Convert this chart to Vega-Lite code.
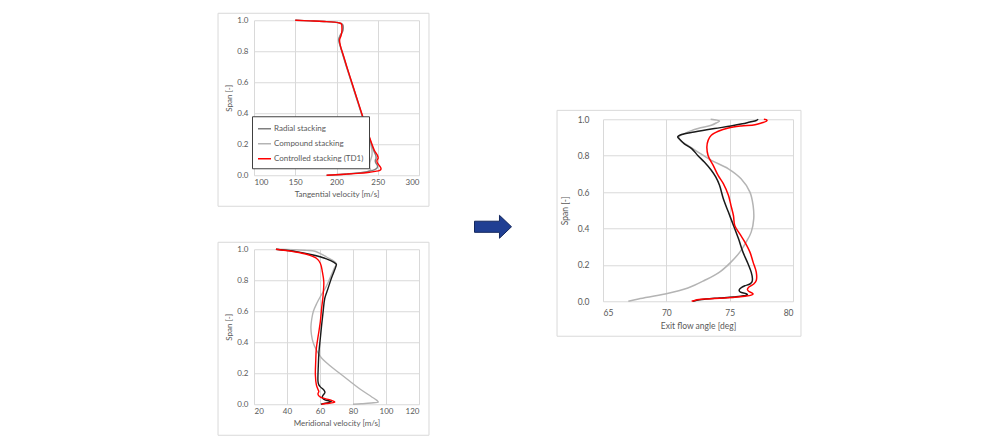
{
  "$schema": "https://vega.github.io/schema/vega-lite/v6.json",
  "padding": {"left": 217, "top": 12, "right": 0, "bottom": 0},
  "background": "white",
  "config": {
    "view": {"stroke": null},
    "axis": {"domain": false, "ticks": false, "grid": true, "gridColor": "#d9d9d9", "gridWidth": 1, "tickCount": 12, "labelOverlap": false,
      "labelColor": "#595959", "titleColor": "#595959", "labelFont": "Lato", "titleFont": "Lato",
      "titleFontWeight": "normal", "labelFontSize": 8, "titleFontSize": 8}
  },
  "datasets": {
    "tang": [
      {"s": "Compound stacking", "span": 1.0, "v": 150},
      {"s": "Compound stacking", "span": 0.996, "v": 168},
      {"s": "Compound stacking", "span": 0.992, "v": 185},
      {"s": "Compound stacking", "span": 0.988, "v": 197},
      {"s": "Compound stacking", "span": 0.983, "v": 203.5},
      {"s": "Compound stacking", "span": 0.976, "v": 207},
      {"s": "Compound stacking", "span": 0.96, "v": 208},
      {"s": "Compound stacking", "span": 0.93, "v": 207.5},
      {"s": "Compound stacking", "span": 0.9, "v": 204},
      {"s": "Compound stacking", "span": 0.875, "v": 202.5},
      {"s": "Compound stacking", "span": 0.855, "v": 203.3},
      {"s": "Compound stacking", "span": 0.8, "v": 206.3},
      {"s": "Compound stacking", "span": 0.7, "v": 212},
      {"s": "Compound stacking", "span": 0.6, "v": 218},
      {"s": "Compound stacking", "span": 0.5, "v": 224},
      {"s": "Compound stacking", "span": 0.4, "v": 230},
      {"s": "Compound stacking", "span": 0.3, "v": 236},
      {"s": "Compound stacking", "span": 0.2, "v": 241.5},
      {"s": "Compound stacking", "span": 0.16, "v": 243},
      {"s": "Compound stacking", "span": 0.13, "v": 243},
      {"s": "Compound stacking", "span": 0.1, "v": 241.5},
      {"s": "Compound stacking", "span": 0.08, "v": 240.5},
      {"s": "Compound stacking", "span": 0.06, "v": 240.3},
      {"s": "Compound stacking", "span": 0.045, "v": 240.5},
      {"s": "Compound stacking", "span": 0.035, "v": 241.5},
      {"s": "Compound stacking", "span": 0.025, "v": 238},
      {"s": "Compound stacking", "span": 0.017, "v": 230},
      {"s": "Compound stacking", "span": 0.01, "v": 218},
      {"s": "Compound stacking", "span": 0.005, "v": 205},
      {"s": "Compound stacking", "span": 0.0, "v": 190},
      {"s": "Radial stacking", "span": 1.0, "v": 150},
      {"s": "Radial stacking", "span": 0.996, "v": 168},
      {"s": "Radial stacking", "span": 0.992, "v": 185},
      {"s": "Radial stacking", "span": 0.988, "v": 197},
      {"s": "Radial stacking", "span": 0.983, "v": 203},
      {"s": "Radial stacking", "span": 0.97, "v": 207.5},
      {"s": "Radial stacking", "span": 0.93, "v": 207.5},
      {"s": "Radial stacking", "span": 0.9, "v": 204.5},
      {"s": "Radial stacking", "span": 0.875, "v": 202.8},
      {"s": "Radial stacking", "span": 0.855, "v": 203.5},
      {"s": "Radial stacking", "span": 0.8, "v": 206.5},
      {"s": "Radial stacking", "span": 0.7, "v": 212.3},
      {"s": "Radial stacking", "span": 0.6, "v": 218.3},
      {"s": "Radial stacking", "span": 0.5, "v": 224.3},
      {"s": "Radial stacking", "span": 0.4, "v": 230.3},
      {"s": "Radial stacking", "span": 0.3, "v": 236.3},
      {"s": "Radial stacking", "span": 0.2, "v": 242.5},
      {"s": "Radial stacking", "span": 0.16, "v": 245},
      {"s": "Radial stacking", "span": 0.13, "v": 247.5},
      {"s": "Radial stacking", "span": 0.11, "v": 248},
      {"s": "Radial stacking", "span": 0.095, "v": 247},
      {"s": "Radial stacking", "span": 0.08, "v": 247.5},
      {"s": "Radial stacking", "span": 0.065, "v": 249.5},
      {"s": "Radial stacking", "span": 0.05, "v": 249.5},
      {"s": "Radial stacking", "span": 0.04, "v": 247.5},
      {"s": "Radial stacking", "span": 0.03, "v": 243},
      {"s": "Radial stacking", "span": 0.022, "v": 236},
      {"s": "Radial stacking", "span": 0.015, "v": 226},
      {"s": "Radial stacking", "span": 0.008, "v": 212},
      {"s": "Radial stacking", "span": 0.003, "v": 199},
      {"s": "Radial stacking", "span": 0.0, "v": 188},
      {"s": "Controlled stacking (TD1)", "span": 1.0, "v": 150},
      {"s": "Controlled stacking (TD1)", "span": 0.996, "v": 168},
      {"s": "Controlled stacking (TD1)", "span": 0.992, "v": 185},
      {"s": "Controlled stacking (TD1)", "span": 0.988, "v": 197},
      {"s": "Controlled stacking (TD1)", "span": 0.983, "v": 203},
      {"s": "Controlled stacking (TD1)", "span": 0.976, "v": 206},
      {"s": "Controlled stacking (TD1)", "span": 0.96, "v": 206.5},
      {"s": "Controlled stacking (TD1)", "span": 0.93, "v": 206.5},
      {"s": "Controlled stacking (TD1)", "span": 0.9, "v": 205.5},
      {"s": "Controlled stacking (TD1)", "span": 0.875, "v": 203.8},
      {"s": "Controlled stacking (TD1)", "span": 0.855, "v": 204},
      {"s": "Controlled stacking (TD1)", "span": 0.82, "v": 205.5},
      {"s": "Controlled stacking (TD1)", "span": 0.8, "v": 206.7},
      {"s": "Controlled stacking (TD1)", "span": 0.75, "v": 209.7},
      {"s": "Controlled stacking (TD1)", "span": 0.7, "v": 212.5},
      {"s": "Controlled stacking (TD1)", "span": 0.6, "v": 218.5},
      {"s": "Controlled stacking (TD1)", "span": 0.5, "v": 224.5},
      {"s": "Controlled stacking (TD1)", "span": 0.4, "v": 230.5},
      {"s": "Controlled stacking (TD1)", "span": 0.3, "v": 236.5},
      {"s": "Controlled stacking (TD1)", "span": 0.2, "v": 243},
      {"s": "Controlled stacking (TD1)", "span": 0.16, "v": 246},
      {"s": "Controlled stacking (TD1)", "span": 0.13, "v": 249.5},
      {"s": "Controlled stacking (TD1)", "span": 0.11, "v": 250.5},
      {"s": "Controlled stacking (TD1)", "span": 0.095, "v": 249},
      {"s": "Controlled stacking (TD1)", "span": 0.08, "v": 249.5},
      {"s": "Controlled stacking (TD1)", "span": 0.065, "v": 251.5},
      {"s": "Controlled stacking (TD1)", "span": 0.05, "v": 253.5},
      {"s": "Controlled stacking (TD1)", "span": 0.04, "v": 254},
      {"s": "Controlled stacking (TD1)", "span": 0.032, "v": 252.5},
      {"s": "Controlled stacking (TD1)", "span": 0.025, "v": 247},
      {"s": "Controlled stacking (TD1)", "span": 0.018, "v": 238},
      {"s": "Controlled stacking (TD1)", "span": 0.012, "v": 226},
      {"s": "Controlled stacking (TD1)", "span": 0.007, "v": 212},
      {"s": "Controlled stacking (TD1)", "span": 0.003, "v": 199},
      {"s": "Controlled stacking (TD1)", "span": 0.0, "v": 188}
    ],
    "merid": [
      {"s": "Compound stacking", "span": 1.0, "v": 34},
      {"s": "Compound stacking", "span": 0.997, "v": 44},
      {"s": "Compound stacking", "span": 0.993, "v": 52},
      {"s": "Compound stacking", "span": 0.987, "v": 57},
      {"s": "Compound stacking", "span": 0.97, "v": 60.5},
      {"s": "Compound stacking", "span": 0.95, "v": 64},
      {"s": "Compound stacking", "span": 0.93, "v": 67.5},
      {"s": "Compound stacking", "span": 0.91, "v": 69.7},
      {"s": "Compound stacking", "span": 0.9, "v": 70},
      {"s": "Compound stacking", "span": 0.885, "v": 69},
      {"s": "Compound stacking", "span": 0.85, "v": 67.5},
      {"s": "Compound stacking", "span": 0.8, "v": 65.5},
      {"s": "Compound stacking", "span": 0.75, "v": 63.3},
      {"s": "Compound stacking", "span": 0.7, "v": 60.5},
      {"s": "Compound stacking", "span": 0.65, "v": 58},
      {"s": "Compound stacking", "span": 0.6, "v": 56},
      {"s": "Compound stacking", "span": 0.55, "v": 55},
      {"s": "Compound stacking", "span": 0.5, "v": 54.5},
      {"s": "Compound stacking", "span": 0.45, "v": 54.8},
      {"s": "Compound stacking", "span": 0.4, "v": 55.8},
      {"s": "Compound stacking", "span": 0.35, "v": 57.8},
      {"s": "Compound stacking", "span": 0.3, "v": 60.8},
      {"s": "Compound stacking", "span": 0.25, "v": 65.9},
      {"s": "Compound stacking", "span": 0.2, "v": 71.9},
      {"s": "Compound stacking", "span": 0.15, "v": 77.9},
      {"s": "Compound stacking", "span": 0.1, "v": 84},
      {"s": "Compound stacking", "span": 0.05, "v": 91},
      {"s": "Compound stacking", "span": 0.025, "v": 94.5},
      {"s": "Compound stacking", "span": 0.015, "v": 95.3},
      {"s": "Compound stacking", "span": 0.008, "v": 91},
      {"s": "Compound stacking", "span": 0.003, "v": 85},
      {"s": "Compound stacking", "span": 0.0, "v": 80},
      {"s": "Radial stacking", "span": 1.0, "v": 33.3},
      {"s": "Radial stacking", "span": 0.985, "v": 45.8},
      {"s": "Radial stacking", "span": 0.963, "v": 55.8},
      {"s": "Radial stacking", "span": 0.938, "v": 63.9},
      {"s": "Radial stacking", "span": 0.915, "v": 68.5},
      {"s": "Radial stacking", "span": 0.903, "v": 69.9},
      {"s": "Radial stacking", "span": 0.885, "v": 69.5},
      {"s": "Radial stacking", "span": 0.867, "v": 68.9},
      {"s": "Radial stacking", "span": 0.813, "v": 66.9},
      {"s": "Radial stacking", "span": 0.748, "v": 64.9},
      {"s": "Radial stacking", "span": 0.684, "v": 62.9},
      {"s": "Radial stacking", "span": 0.598, "v": 61.9},
      {"s": "Radial stacking", "span": 0.512, "v": 61.0},
      {"s": "Radial stacking", "span": 0.426, "v": 60.2},
      {"s": "Radial stacking", "span": 0.34, "v": 59.4},
      {"s": "Radial stacking", "span": 0.254, "v": 59.0},
      {"s": "Radial stacking", "span": 0.146, "v": 58.8},
      {"s": "Radial stacking", "span": 0.125, "v": 59.3},
      {"s": "Radial stacking", "span": 0.112, "v": 60.2},
      {"s": "Radial stacking", "span": 0.1, "v": 61.6},
      {"s": "Radial stacking", "span": 0.09, "v": 62.5},
      {"s": "Radial stacking", "span": 0.078, "v": 63},
      {"s": "Radial stacking", "span": 0.068, "v": 62.6},
      {"s": "Radial stacking", "span": 0.058, "v": 61.8},
      {"s": "Radial stacking", "span": 0.048, "v": 61.4},
      {"s": "Radial stacking", "span": 0.038, "v": 61.7},
      {"s": "Radial stacking", "span": 0.028, "v": 63},
      {"s": "Radial stacking", "span": 0.017, "v": 66.9},
      {"s": "Radial stacking", "span": 0.01, "v": 65},
      {"s": "Radial stacking", "span": 0.004, "v": 62},
      {"s": "Radial stacking", "span": 0.0, "v": 60.5},
      {"s": "Controlled stacking (TD1)", "span": 1.0, "v": 33.3},
      {"s": "Controlled stacking (TD1)", "span": 0.985, "v": 43.7},
      {"s": "Controlled stacking (TD1)", "span": 0.968, "v": 51.8},
      {"s": "Controlled stacking (TD1)", "span": 0.942, "v": 57.8},
      {"s": "Controlled stacking (TD1)", "span": 0.91, "v": 60.2},
      {"s": "Controlled stacking (TD1)", "span": 0.856, "v": 61.4},
      {"s": "Controlled stacking (TD1)", "span": 0.79, "v": 62.3},
      {"s": "Controlled stacking (TD1)", "span": 0.705, "v": 61.9},
      {"s": "Controlled stacking (TD1)", "span": 0.62, "v": 61.0},
      {"s": "Controlled stacking (TD1)", "span": 0.533, "v": 60.2},
      {"s": "Controlled stacking (TD1)", "span": 0.447, "v": 59.0},
      {"s": "Controlled stacking (TD1)", "span": 0.361, "v": 57.8},
      {"s": "Controlled stacking (TD1)", "span": 0.275, "v": 57.4},
      {"s": "Controlled stacking (TD1)", "span": 0.189, "v": 57.2},
      {"s": "Controlled stacking (TD1)", "span": 0.125, "v": 57.8},
      {"s": "Controlled stacking (TD1)", "span": 0.095, "v": 58.8},
      {"s": "Controlled stacking (TD1)", "span": 0.082, "v": 59.3},
      {"s": "Controlled stacking (TD1)", "span": 0.07, "v": 58.8},
      {"s": "Controlled stacking (TD1)", "span": 0.058, "v": 59.0},
      {"s": "Controlled stacking (TD1)", "span": 0.045, "v": 60.5},
      {"s": "Controlled stacking (TD1)", "span": 0.035, "v": 63.5},
      {"s": "Controlled stacking (TD1)", "span": 0.025, "v": 67},
      {"s": "Controlled stacking (TD1)", "span": 0.015, "v": 69},
      {"s": "Controlled stacking (TD1)", "span": 0.01, "v": 68},
      {"s": "Controlled stacking (TD1)", "span": 0.005, "v": 64},
      {"s": "Controlled stacking (TD1)", "span": 0.0, "v": 61}
    ],
    "angle": [
      {"s": "Compound stacking", "span": 1.0, "v": 73.5},
      {"s": "Compound stacking", "span": 0.99, "v": 74.2},
      {"s": "Compound stacking", "span": 0.982, "v": 74.0},
      {"s": "Compound stacking", "span": 0.967, "v": 73.55},
      {"s": "Compound stacking", "span": 0.949, "v": 72.5},
      {"s": "Compound stacking", "span": 0.927, "v": 71.6},
      {"s": "Compound stacking", "span": 0.903, "v": 71.0},
      {"s": "Compound stacking", "span": 0.884, "v": 71.1},
      {"s": "Compound stacking", "span": 0.857, "v": 71.7},
      {"s": "Compound stacking", "span": 0.82, "v": 72.5},
      {"s": "Compound stacking", "span": 0.774, "v": 73.55},
      {"s": "Compound stacking", "span": 0.728, "v": 74.9},
      {"s": "Compound stacking", "span": 0.673, "v": 75.9},
      {"s": "Compound stacking", "span": 0.6, "v": 76.6},
      {"s": "Compound stacking", "span": 0.527, "v": 76.85},
      {"s": "Compound stacking", "span": 0.453, "v": 76.9},
      {"s": "Compound stacking", "span": 0.38, "v": 76.7},
      {"s": "Compound stacking", "span": 0.325, "v": 76.3},
      {"s": "Compound stacking", "span": 0.27, "v": 75.8},
      {"s": "Compound stacking", "span": 0.215, "v": 75.1},
      {"s": "Compound stacking", "span": 0.16, "v": 74.2},
      {"s": "Compound stacking", "span": 0.114, "v": 73.0},
      {"s": "Compound stacking", "span": 0.073, "v": 71.7},
      {"s": "Compound stacking", "span": 0.04, "v": 69.9},
      {"s": "Compound stacking", "span": 0.013, "v": 67.8},
      {"s": "Compound stacking", "span": 0.0, "v": 67.0},
      {"s": "Radial stacking", "span": 1.0, "v": 77.25},
      {"s": "Radial stacking", "span": 0.993, "v": 77.1},
      {"s": "Radial stacking", "span": 0.985, "v": 76.6},
      {"s": "Radial stacking", "span": 0.975, "v": 76.0},
      {"s": "Radial stacking", "span": 0.963, "v": 75.1},
      {"s": "Radial stacking", "span": 0.949, "v": 73.8},
      {"s": "Radial stacking", "span": 0.93, "v": 72.2},
      {"s": "Radial stacking", "span": 0.916, "v": 71.2},
      {"s": "Radial stacking", "span": 0.903, "v": 70.9},
      {"s": "Radial stacking", "span": 0.89, "v": 71.05},
      {"s": "Radial stacking", "span": 0.866, "v": 71.4},
      {"s": "Radial stacking", "span": 0.839, "v": 72.0},
      {"s": "Radial stacking", "span": 0.8, "v": 72.5},
      {"s": "Radial stacking", "span": 0.765, "v": 73.0},
      {"s": "Radial stacking", "span": 0.72, "v": 73.55},
      {"s": "Radial stacking", "span": 0.683, "v": 73.9},
      {"s": "Radial stacking", "span": 0.637, "v": 74.2},
      {"s": "Radial stacking", "span": 0.563, "v": 74.5},
      {"s": "Radial stacking", "span": 0.49, "v": 74.9},
      {"s": "Radial stacking", "span": 0.417, "v": 75.3},
      {"s": "Radial stacking", "span": 0.343, "v": 75.7},
      {"s": "Radial stacking", "span": 0.27, "v": 76.05},
      {"s": "Radial stacking", "span": 0.206, "v": 76.45},
      {"s": "Radial stacking", "span": 0.16, "v": 76.7},
      {"s": "Radial stacking", "span": 0.123, "v": 76.8},
      {"s": "Radial stacking", "span": 0.105, "v": 76.75},
      {"s": "Radial stacking", "span": 0.095, "v": 76.6},
      {"s": "Radial stacking", "span": 0.085, "v": 76.2},
      {"s": "Radial stacking", "span": 0.077, "v": 75.95},
      {"s": "Radial stacking", "span": 0.068, "v": 75.8},
      {"s": "Radial stacking", "span": 0.058, "v": 75.75},
      {"s": "Radial stacking", "span": 0.05, "v": 75.85},
      {"s": "Radial stacking", "span": 0.042, "v": 76.3},
      {"s": "Radial stacking", "span": 0.036, "v": 76.4},
      {"s": "Radial stacking", "span": 0.03, "v": 76.1},
      {"s": "Radial stacking", "span": 0.024, "v": 75.3},
      {"s": "Radial stacking", "span": 0.018, "v": 74.2},
      {"s": "Radial stacking", "span": 0.012, "v": 73.1},
      {"s": "Radial stacking", "span": 0.006, "v": 72.4},
      {"s": "Radial stacking", "span": 0.0, "v": 72.1},
      {"s": "Controlled stacking (TD1)", "span": 1.0, "v": 77.7},
      {"s": "Controlled stacking (TD1)", "span": 0.995, "v": 77.95},
      {"s": "Controlled stacking (TD1)", "span": 0.989, "v": 77.9},
      {"s": "Controlled stacking (TD1)", "span": 0.98, "v": 77.5},
      {"s": "Controlled stacking (TD1)", "span": 0.97, "v": 77.0},
      {"s": "Controlled stacking (TD1)", "span": 0.963, "v": 75.9},
      {"s": "Controlled stacking (TD1)", "span": 0.952, "v": 74.9},
      {"s": "Controlled stacking (TD1)", "span": 0.934, "v": 74.1},
      {"s": "Controlled stacking (TD1)", "span": 0.912, "v": 73.55},
      {"s": "Controlled stacking (TD1)", "span": 0.884, "v": 73.3},
      {"s": "Controlled stacking (TD1)", "span": 0.848, "v": 73.2},
      {"s": "Controlled stacking (TD1)", "span": 0.8, "v": 73.3},
      {"s": "Controlled stacking (TD1)", "span": 0.747, "v": 73.7},
      {"s": "Controlled stacking (TD1)", "span": 0.69, "v": 74.1},
      {"s": "Controlled stacking (TD1)", "span": 0.646, "v": 74.5},
      {"s": "Controlled stacking (TD1)", "span": 0.582, "v": 74.9},
      {"s": "Controlled stacking (TD1)", "span": 0.527, "v": 75.1},
      {"s": "Controlled stacking (TD1)", "span": 0.47, "v": 75.3},
      {"s": "Controlled stacking (TD1)", "span": 0.417, "v": 75.4},
      {"s": "Controlled stacking (TD1)", "span": 0.37, "v": 75.8},
      {"s": "Controlled stacking (TD1)", "span": 0.325, "v": 76.2},
      {"s": "Controlled stacking (TD1)", "span": 0.27, "v": 76.6},
      {"s": "Controlled stacking (TD1)", "span": 0.215, "v": 76.85},
      {"s": "Controlled stacking (TD1)", "span": 0.16, "v": 77.1},
      {"s": "Controlled stacking (TD1)", "span": 0.114, "v": 77.1},
      {"s": "Controlled stacking (TD1)", "span": 0.095, "v": 76.9},
      {"s": "Controlled stacking (TD1)", "span": 0.086, "v": 76.7},
      {"s": "Controlled stacking (TD1)", "span": 0.077, "v": 76.5},
      {"s": "Controlled stacking (TD1)", "span": 0.065, "v": 76.4},
      {"s": "Controlled stacking (TD1)", "span": 0.055, "v": 76.5},
      {"s": "Controlled stacking (TD1)", "span": 0.046, "v": 76.75},
      {"s": "Controlled stacking (TD1)", "span": 0.04, "v": 76.85},
      {"s": "Controlled stacking (TD1)", "span": 0.034, "v": 76.7},
      {"s": "Controlled stacking (TD1)", "span": 0.028, "v": 76.2},
      {"s": "Controlled stacking (TD1)", "span": 0.022, "v": 75.4},
      {"s": "Controlled stacking (TD1)", "span": 0.017, "v": 74.2},
      {"s": "Controlled stacking (TD1)", "span": 0.012, "v": 73.0},
      {"s": "Controlled stacking (TD1)", "span": 0.006, "v": 72.3},
      {"s": "Controlled stacking (TD1)", "span": 0.0, "v": 72.0}
    ]
  },
  "hconcat": [
    {
      "vconcat": [
        {
          "width": 165, "height": 155,
          "data": {"name": "tang"},
          "layer": [
            {
              "data": {"values": [{}]},
              "mark": {"type": "rect", "fill": "white", "fillOpacity": 0, "stroke": "#d9d9d9", "strokeWidth": 1},
              "encoding": {
                "x": {"datum": 56.4, "type": "quantitative", "scale": {"domain": [100, 300], "nice": false, "zero": false}, "axis": {"title": "Tangential velocity [m/s]", "values": [100, 150, 200, 250, 300], "labelPadding": 3, "titlePadding": 4}},
                "x2": {"datum": 312.1},
                "y": {"datum": 1.045, "type": "quantitative", "scale": {"domain": [0, 1], "nice": false}, "axis": {"title": "Span [-]", "values": [0, 0.2, 0.4, 0.6, 0.8, 1], "format": ".1f", "labelPadding": 6, "titlePadding": 3}},
                "y2": {"datum": -0.2}
              }
            },
            {
              "mark": {"type": "line", "interpolate": "catmull-rom", "strokeWidth": 1.4},
              "encoding": {
                "x": {"field": "v", "type": "quantitative", "title": "Tangential velocity [m/s]"},
                "y": {"field": "span", "type": "quantitative", "title": "Span [-]"},
                "order": {"field": "span"},
                "color": {"field": "s", "type": "nominal",
                  "scale": {"domain": ["Radial stacking", "Compound stacking", "Controlled stacking (TD1)"], "range": ["#7f7f7f", "#b4b4b4", "#ff0000"]},
                  "legend": {"title": null, "orient": "none", "legendX": -2, "legendY": 96, "strokeColor": "#404040", "fillColor": "white", "padding": 5, "symbolType": "stroke", "symbolSize": 169, "symbolStrokeWidth": 1.5, "labelFont": "Lato", "labelFontSize": 8, "labelColor": "#595959", "rowPadding": 3, "labelOffset": 2}
                }
              }
            }
          ],
          "resolve": {"scale": {"color": "independent"}}
        },
        {
          "width": 165, "height": 155,
          "data": {"name": "merid"},
          "layer": [
            {
              "data": {"values": [{}]},
              "mark": {"type": "rect", "fill": "white", "fillOpacity": 0, "stroke": "#d9d9d9", "strokeWidth": 1},
              "encoding": {
                "x": {"datum": -1.8, "type": "quantitative", "scale": {"domain": [20, 120], "nice": false, "zero": false}, "axis": {"title": "Meridional velocity [m/s]", "values": [20, 40, 60, 80, 100, 120], "labelPadding": 3, "titlePadding": 4}},
                "x2": {"datum": 126.06},
                "y": {"datum": 1.045, "type": "quantitative", "scale": {"domain": [0, 1], "nice": false}, "axis": {"title": "Span [-]", "values": [0, 0.2, 0.4, 0.6, 0.8, 1], "format": ".1f", "labelPadding": 6, "titlePadding": 3}},
                "y2": {"datum": -0.2}
              }
            },
            {
              "mark": {"type": "line", "interpolate": "catmull-rom", "strokeWidth": 1.4},
              "encoding": {
                "x": {"field": "v", "type": "quantitative", "title": "Meridional velocity [m/s]"},
                "y": {"field": "span", "type": "quantitative", "title": "Span [-]"},
                "order": {"field": "span"},
                "color": {"field": "s", "type": "nominal",
                  "scale": {"domain": ["Radial stacking", "Compound stacking", "Controlled stacking (TD1)"], "range": ["#1a1a1a", "#b4b4b4", "#ff0000"]},
                  "legend": null
                }
              }
            }
          ]
        }
      ],
      "spacing": 34,
      "resolve": {"scale": {"color": "independent"}, "legend": {"color": "independent"}}
    },
    {
      "width": 40, "height": 22,
      "data": {"values": [{}]},
      "mark": {"type": "point", "shape": "M -1 -0.3 L 0.35 -0.3 L 0.35 -0.62 L 1 0 L 0.35 0.62 L 0.35 0.3 L -1 0.3 Z", "size": 1369, "filled": true, "fill": "#203f93", "stroke": "#14285e", "strokeWidth": 1, "opacity": 1},
      "encoding": {}
    },
    {
      "width": 190, "height": 182,
      "data": {"name": "angle"},
      "layer": [
        {
          "data": {"values": [{}]},
          "mark": {"type": "rect", "fill": "white", "fillOpacity": 0, "stroke": "#d9d9d9", "strokeWidth": 1},
          "encoding": {
            "x": {"datum": 61.37, "type": "quantitative", "scale": {"domain": [65, 80], "nice": false, "zero": false}, "axis": {"title": "Exit flow angle [deg]", "values": [65, 70, 75, 80], "labelPadding": 7, "titlePadding": 5, "labelFontSize": 8.5, "titleFontSize": 8.5}},
            "x2": {"datum": 80.63},
            "y": {"datum": 1.049, "type": "quantitative", "scale": {"domain": [0, 1], "nice": false}, "axis": {"title": "Span [-]", "values": [0, 0.2, 0.4, 0.6, 0.8, 1], "format": ".1f", "labelPadding": 14, "titlePadding": 8, "labelFontSize": 8.5, "titleFontSize": 8.5}},
            "y2": {"datum": -0.192}
          }
        },
        {
          "mark": {"type": "line", "interpolate": "catmull-rom", "strokeWidth": 1.5},
          "encoding": {
            "x": {"field": "v", "type": "quantitative", "title": "Exit flow angle [deg]"},
            "y": {"field": "span", "type": "quantitative", "title": "Span [-]"},
            "order": {"field": "span"},
            "color": {"field": "s", "type": "nominal",
              "scale": {"domain": ["Radial stacking", "Compound stacking", "Controlled stacking (TD1)"], "range": ["#1a1a1a", "#b4b4b4", "#ff0000"]},
              "legend": null
            }
          }
        }
      ]
    }
  ],
  "spacing": 42,
  "center": true,
  "resolve": {"scale": {"color": "independent"}, "legend": {"color": "independent"}}
}
